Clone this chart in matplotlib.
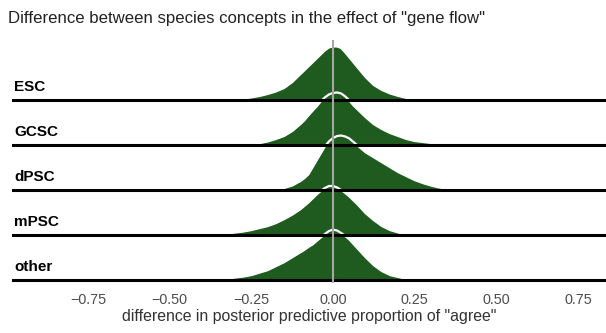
import matplotlib
matplotlib.use("Agg")
import matplotlib.pyplot as plt
import numpy as np

plt.rcParams['font.family'] = ['Liberation Sans', 'DejaVu Sans']

# difference grid (finer near zero) and ridge heights per species concept
x_grid = [-0.35, -0.325, -0.30, -0.275, -0.25, -0.225, -0.20, -0.175, -0.15, -0.125,
          -0.10, -0.0875, -0.075, -0.0625, -0.05, -0.0375, -0.025, -0.0125, 0.0,
          0.0125, 0.025, 0.0375, 0.05, 0.0625, 0.075, 0.0875, 0.10,
          0.125, 0.15, 0.175, 0.20, 0.225, 0.25, 0.275, 0.30, 0.325, 0.35, 0.375]

concepts = ['ESC', 'GCSC', 'dPSC', 'mPSC', 'other']

esc = [0, 0, 0.5, 1.5, 2.5, 4, 6, 8.5, 12, 18,
       26, 30, 34, 38, 42, 46, 50, 53, 54,
       54, 52.5, 48, 43, 38, 33, 28, 23,
       15, 10, 6.5, 4, 2, 0.7, 0, 0, 0, 0, 0]
gcsc = [0, 0, 0, 0, 0.5, 1.8, 3.5, 6, 9, 14,
        21, 25, 30, 34.5, 39, 44, 48, 51, 52.5,
        53, 52, 49, 45, 40, 36, 32, 28,
        21, 16, 12, 9, 6, 4, 3, 2, 1, 0.3, 0]
dpsc = [0, 0, 0, 0, 0, 0, 0.3, 0.9, 2, 4.5,
        9, 12, 16, 23, 30, 37, 44, 49, 52.5,
        54.5, 55, 54, 52, 48.5, 45, 41.5, 38,
        33, 28, 23, 18, 14, 10, 7, 4.5, 2.5, 1.2, 0.3]
mpsc = [0.5, 1.5, 2.5, 3.5, 5, 7, 9, 12, 16, 20.5,
        26, 29.5, 33, 37, 41, 44.5, 47.5, 49.5, 49.5,
        48, 45.5, 42.5, 39, 35, 31, 26.5, 22,
        15, 9, 5, 2.5, 1, 0.3, 0, 0, 0, 0, 0]
other = [0.5, 1.5, 2.5, 3.5, 5, 7.5, 10, 14, 18, 23,
         28, 30.5, 33.5, 36, 39.5, 43, 46.5, 49.5, 51,
         50, 47.5, 44.5, 41, 36.5, 32, 27.5, 23,
         15, 9, 5, 3, 1.2, 0.4, 0, 0, 0, 0, 0]

ridges = [esc, gcsc, dpsc, mpsc, other]
x_ticks = [-0.75, -0.50, -0.25, 0.00, 0.25, 0.50, 0.75]

fill_col = '#1f5b1f'
scale = 1 / 45.5

fig = plt.figure(figsize=(6.06, 3.33), dpi=100)
ax = fig.add_axes([12 / 606, 50 / 333, 594 / 606, 243 / 333])

n = len(concepts)
for i, (name, h) in enumerate(zip(concepts, ridges)):
    base = n - 1 - i
    top = base + np.array(h) * scale
    ax.fill_between(x_grid, base, top, color=fill_col, lw=0, zorder=2 + i)
    ax.plot(x_grid, top, color='white', lw=1.6, zorder=2 + i,
            solid_joinstyle='round', solid_capstyle='round')
    ax.text(0.004, base + 0.14, name, transform=ax.get_yaxis_transform(),
            fontsize=11, fontweight='bold', color='black', va='bottom', ha='left')

# baselines over all ridges
for i in range(n):
    ax.axhline(n - 1 - i, color='black', lw=2.2, zorder=20)

ax.axvline(0, color='#a6a6a6', lw=1.5, zorder=21)

ax.set_xlim(-0.9826, 0.8356)
ax.set_ylim(-0.066, 5.33)
ax.set_xticks(x_ticks)
ax.set_xticklabels([f'{t:.2f}'.replace('-', '\u2212') for t in x_ticks])
ax.set_yticks([])
ax.tick_params(axis='x', length=0, pad=7, labelsize=10.4, labelcolor='#4d4d4d')
for s in ax.spines.values():
    s.set_visible(False)
ax.set_xlabel('difference in posterior predictive proportion of "agree"',
              fontsize=11.4, color='#333333', labelpad=2)

fig.text(8 / 606, 1 - 18 / 333, 'Difference between species concepts in the effect of "gene flow"',
         fontsize=12.1, color='#222222', va='center', ha='left')

fig.savefig('out.png', dpi=100)
